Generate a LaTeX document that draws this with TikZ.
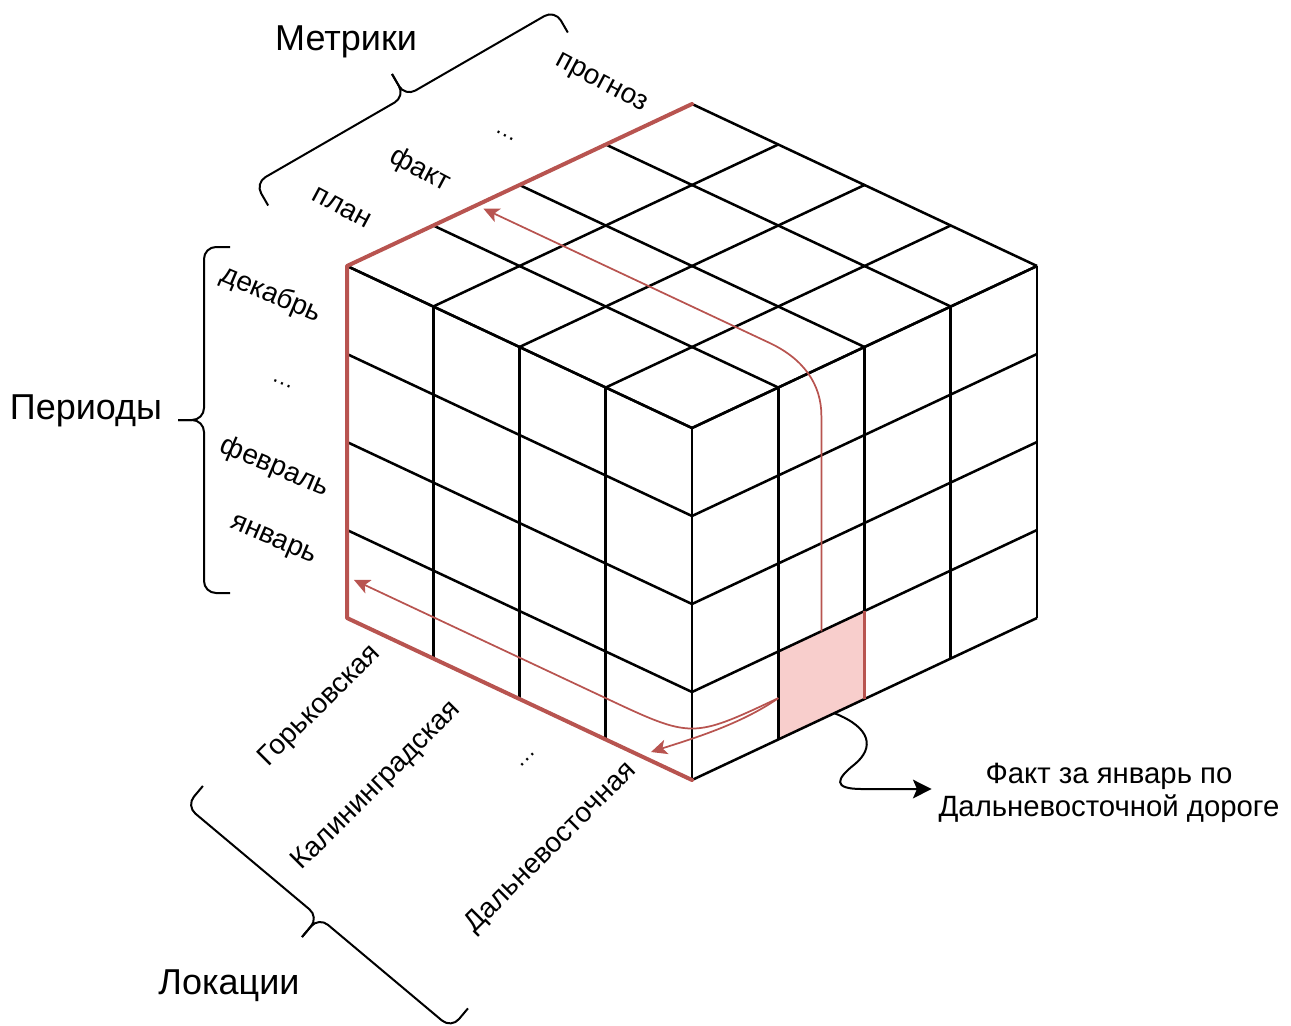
\documentclass[tikz,border=0pt]{standalone}
\usepackage{fontspec}
\setmainfont{Liberation Sans}
\usetikzlibrary{arrows.meta}
\definecolor{redline}{HTML}{B85450}
\definecolor{pinkfill}{HTML}{F8CECC}
\begin{document}
\begin{tikzpicture}[x=0.75pt,y=-0.75pt,
  gridline/.style={line width=1.9pt, black},
  rededge/.style={line width=3pt, redline, line join=round, line cap=round},
  redarrow/.style={line width=1.3pt, redline, -{Stealth[length=12pt,width=11pt,inset=3pt]}},
  callout/.style={line width=1.5pt, black, -{Stealth[length=14pt,width=14pt,inset=3pt]}},
  bracestyle/.style={line width=1.5pt, black, rounded corners=9pt},
  biglabel/.style={font=\fontsize{27}{32}\selectfont, inner sep=0pt},
  smalllabel/.style={font=\fontsize{21}{25}\selectfont, inner sep=0pt},
  dotslabel/.style={font=\fontsize{17}{20}\selectfont, inner sep=0pt},
  notelabel/.style={font=\fontsize{22}{25}\selectfont, align=center, inner sep=5pt},
  pics/dbrace/.style={code={
    \draw[bracestyle] (52,-173) -- (26,-173) -- (26,0) -- (0,0);
    \draw[bracestyle] (0,0) -- (26,0) -- (26,173) -- (52,173);
  }}
]
\useasboundingbox (0,0) rectangle (1291,1025);

% ---------------- cube ----------------
\begin{scope}[shift={(347,618)}, x={(64.6875pt,-30.375pt)}, y={(64.6875pt,30.375pt)}, z={(0pt,66pt)}]
  \fill[pinkfill] (4,1,0) -- (4,2,0) -- (4,2,1) -- (4,1,1) -- cycle;
  \foreach \i in {0,...,4} {
    \draw[gridline] (\i,0,0) -- (\i,0,4);
    \draw[gridline] (0,0,\i) -- (4,0,\i);
    \draw[gridline] (4,\i,0) -- (4,\i,4);
    \draw[gridline] (4,0,\i) -- (4,4,\i);
    \draw[gridline] (\i,0,4) -- (\i,4,4);
    \draw[gridline] (0,\i,4) -- (4,\i,4);
  }
  \draw[line width=1.8pt, redline] (4,2,0) -- (4,2,1);
  \coordinate (cellTop) at (4,1.5,1);
  \coordinate (cellLeft) at (4,1,0.47);
  \coordinate (cellBottom) at (4,1.65,0);
  \coordinate (tipFact) at (0.08,1.5,4);
  \coordinate (tipJan) at (0.08,0,0.47);
  \draw[redarrow] (cellTop) -- (4,1.5,3.45) .. controls (4,1.5,3.8) and (3.8,1.5,4) .. (3.4,1.5,4) -- (tipFact);
  \draw[redarrow] (cellLeft) .. controls (4,0,0.47) and (4,0,0.47) .. (3,0,0.47) -- (tipJan);
  \draw[rededge] (0,4,4) -- (0,0,4) -- (0,0,0) -- (4,0,0);
\end{scope}

\coordinate (tipDal) at (651,752);
\draw[redarrow] (cellLeft) .. controls (740,725) and (688,740) .. (tipDal);

% ---------------- braces ----------------
\pic[rotate=-60] at (392,74) {dbrace};
\pic at (178,420) {dbrace};
\pic[rotate=50] at (302,937) {dbrace};

% ---------------- titles ----------------
\node[biglabel] (metrics) at (346,42) {Метрики};
\node[biglabel] (periods) at (86,411) {Периоды};
\node[biglabel] (locations) at (229,986) {Локации};

% metrics
\node[smalllabel, rotate=-28] (mForecast) at (601,84) {прогноз};
\node[dotslabel, rotate=-28] (mDots) at (505,136) {…};
\node[smalllabel, rotate=-28] (mFact) at (420,170) {факт};
\node[smalllabel, rotate=-28] (mPlan) at (342,208) {план};

% periods
\node[smalllabel, rotate=-23] (pDec) at (271,295) {декабрь};
\node[dotslabel, rotate=-23] (pDots) at (282,384) {…};
\node[smalllabel, rotate=-23] (pFeb) at (275,467) {февраль};
\node[smalllabel, rotate=-23] (pJan) at (273,541) {январь};

% locations
\node[smalllabel, rotate=45] (lGor) at (320,706) {Горьковская};
\node[smalllabel, rotate=45] (lKal) at (377,786) {Калининградская};
\node[dotslabel, rotate=45] (lDots) at (528,760) {…};
\node[smalllabel, rotate=45] (lDal) at (551,848) {Дальневосточная};

% callout
\node[notelabel] (note) at (1109,793) {Факт за январь по\\Дальневосточной дороге};
\draw[callout] (cellBottom) .. controls (872,728) and (874,748) .. (855,764)
   .. controls (836,779) and (832,789) .. (862,789) -- ([yshift=3pt]note.west);
\end{tikzpicture}
\end{document}
